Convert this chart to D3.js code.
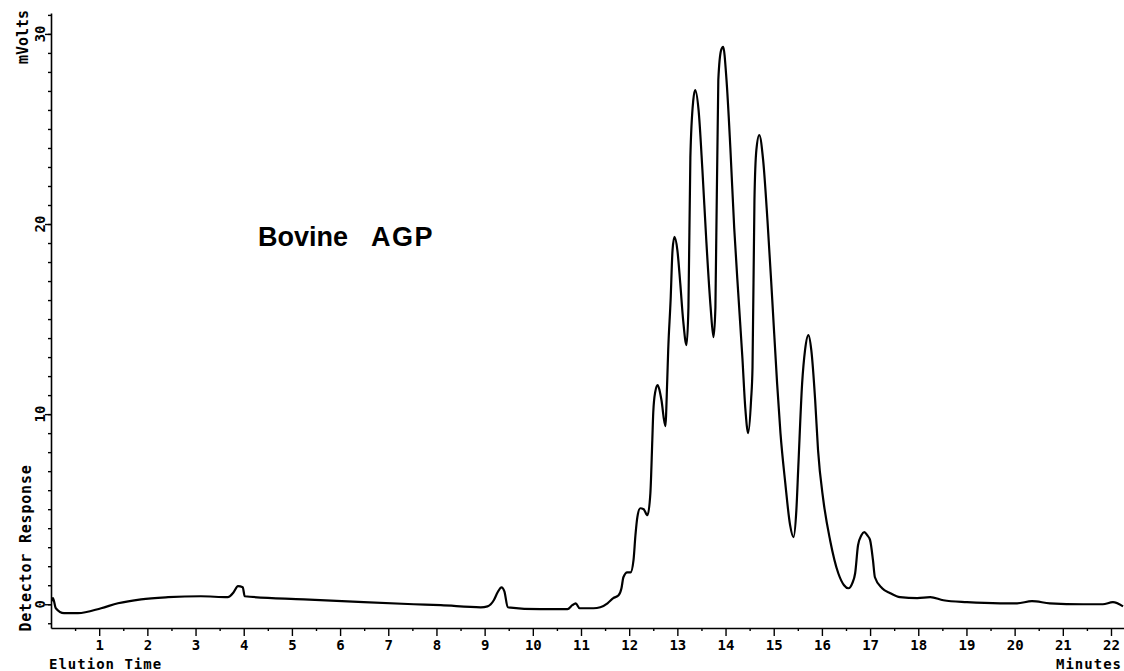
<!DOCTYPE html>
<html>
<head>
<meta charset="utf-8">
<script src="https://cdn.jsdelivr.net/npm/d3@7"></script>
<style>
  body { margin: 0; background: #fff; }
  text { fill: #000; }
  .lab { font-family: "DejaVu Sans Mono", monospace; font-weight: bold; font-size: 14px; }
</style>
</head>
<body>
<svg id="canvas"></svg>
<script>
var w = 1124;
var h = 671;

// elution time (minutes) and detector response (mV)
var times = [0.02, 0.04, 0.10, 0.27, 0.56, 1.04, 1.39, 1.87, 2.43, 3.11, 3.67, 3.79, 3.88, 3.98, 4.02,
  5.25, 6.49, 7.53, 8.09, 8.92, 9.06, 9.19, 9.27, 9.35, 9.41, 9.48, 10.16, 10.72, 10.82, 10.89, 10.97,
  11.26, 11.40, 11.55, 11.67, 11.78, 11.84, 11.88, 11.96, 12.03, 12.09, 12.13, 12.17, 12.23, 12.30, 12.38,
  12.44, 12.48, 12.50, 12.54, 12.59, 12.63, 12.67, 12.75, 12.79, 12.81, 12.86, 12.90, 12.94, 13.00, 13.06,
  13.12, 13.19, 13.23, 13.27, 13.33, 13.37, 13.44, 13.52, 13.60, 13.69, 13.75, 13.79, 13.85, 13.91, 13.95,
  14.02, 14.10, 14.18, 14.27, 14.35, 14.41, 14.47, 14.53, 14.56, 14.60, 14.64, 14.70, 14.78, 14.87, 14.97,
  15.07, 15.14, 15.24, 15.34, 15.41, 15.47, 15.51, 15.59, 15.65, 15.72, 15.78, 15.86, 15.92, 16.03, 16.17,
  16.34, 16.46, 16.55, 16.63, 16.69, 16.75, 16.82, 16.88, 16.94, 17.00, 17.06, 17.10, 17.25, 17.42, 17.62,
  17.98, 18.25, 18.52, 19.01, 19.70, 20.05, 20.36, 20.73, 21.42, 21.83, 22.04, 22.25];
var mvolts = [0.16, 0.32, -0.21, -0.47, -0.47, -0.21, 0.05, 0.26, 0.37, 0.42, 0.37, 0.63, 0.95, 0.89, 0.42,
  0.26, 0.11, 0.0, -0.05, -0.16, -0.11, 0.21, 0.63, 0.89, 0.68, -0.16, -0.26, -0.26, -0.05, 0.05, -0.21,
  -0.21, -0.16, 0.05, 0.32, 0.47, 0.84, 1.42, 1.68, 1.68, 2.32, 3.63, 4.58, 5.05, 5.0, 4.68,
  5.84, 8.63, 10.1, 11.16, 11.53, 11.26, 10.74, 9.37, 11.79, 13.37, 16.0, 18.63, 19.32, 18.63, 16.89,
  14.95, 13.63, 15.63, 23.5, 26.5, 27.05, 26.0, 22.84, 19.16, 15.63, 14.05, 15.63, 27.58, 29.16, 29.32,
  27.58, 24.0, 19.79, 16.11, 12.95, 10.32, 9.0, 10.74, 12.47, 21.26, 23.9, 24.68, 23.37, 20.2, 16.0,
  11.63, 9.0, 6.37, 4.16, 3.53, 4.95, 7.21, 11.63, 13.37, 14.16, 13.37, 10.74, 8.1, 5.47, 3.37,
  1.63, 1.0, 0.84, 1.1, 1.63, 3.1, 3.63, 3.79, 3.63, 3.37, 2.32, 1.42, 0.84, 0.58, 0.37,
  0.32, 0.37, 0.21, 0.11, 0.05, 0.05, 0.16, 0.05, 0.0, 0.0, 0.11, -0.11];

var xMajor = d3.range(1, 23);          // 1 .. 22 minutes
var xMinor = d3.range(0.5, 22.3, 1);   // half minutes
var yMajor = [0, 10, 20, 30];
var yMinor = d3.range(-1, 32);

var svg = d3.select("#canvas")
  .attr("width", w)
  .attr("height", h)
  .attr("viewBox", [0, 0, w, h]);

var x = d3.scaleLinear().domain([0, 22.27]).range([51, 1124]);
var y = d3.scaleLinear().domain([-1.25, 31.1]).range([628, 13]);

// x axis
var gx = svg.append("g").attr("transform", "translate(0," + y(-1.25) + ")");
gx.call(d3.axisBottom(x).tickValues(xMajor).tickSize(8).tickSizeOuter(0).tickFormat(d3.format("d")));
gx.append("g").call(d3.axisBottom(x).tickValues(xMinor).tickSize(3).tickSizeOuter(0).tickFormat(""))
  .select(".domain").remove();
gx.selectAll("text").attr("class", "lab").attr("y", 22).attr("dy", 0)
  .style("font-size", "14px").style("font-family", "'DejaVu Sans Mono', monospace").style("font-weight", "bold");

// y axis
var gy = svg.append("g").attr("transform", "translate(" + x(0) + ",0)");
gy.call(d3.axisLeft(y).tickValues(yMajor).tickSize(6).tickSizeOuter(0).tickFormat(""));
gy.append("g").call(d3.axisLeft(y).tickValues(yMinor).tickSize(3).tickSizeOuter(0).tickFormat(""))
  .select(".domain").remove();
svg.selectAll(".domain").attr("stroke", "#000").attr("stroke-width", 1.6);
svg.selectAll(".tick line").attr("stroke", "#000").attr("stroke-width", 1.4);

svg.append("g").selectAll("text")
  .data(yMajor)
  .enter()
  .append("text")
  .attr("class", "lab")
  .attr("text-anchor", "middle")
  .attr("transform", d => "translate(45," + y(d) + ") rotate(-90)")
  .text(d => d);

// axis titles
svg.append("text").attr("class", "lab").style("font-size", "15px")
  .attr("text-anchor", "middle")
  .attr("transform", "translate(28,37) rotate(-90)")
  .text("mVolts");
svg.append("text").attr("class", "lab").style("font-size", "15px")
  .style("letter-spacing", "0.8px")
  .attr("text-anchor", "middle")
  .attr("transform", "translate(31,548) rotate(-90)")
  .text("Detector Response");
svg.append("text").attr("class", "lab")
  .attr("x", 49).attr("y", 669)
  .style("letter-spacing", "1px")
  .text("Elution Time");
svg.append("text").attr("class", "lab")
  .attr("x", 1122).attr("y", 669).attr("text-anchor", "end")
  .style("letter-spacing", "1px")
  .text("Minutes");

// trace
var pts = times.map((t, i) => [t, mvolts[i]]);
var line = d3.line()
  .x(d => x(d[0]))
  .y(d => y(d[1]))
  .curve(d3.curveMonotoneX);
svg.append("path")
  .datum(pts)
  .attr("d", line)
  .attr("fill", "none")
  .attr("stroke", "#000")
  .attr("stroke-width", 2.2)
  .attr("stroke-linejoin", "round");

// label
var title = svg.append("g")
  .style("font-family", "'Liberation Sans', Arial, sans-serif")
  .style("font-weight", "bold")
  .style("font-size", "27px");
title.append("text").attr("x", 258).attr("y", 246).text("Bovine");
title.append("text").attr("x", 371).attr("y", 246).style("letter-spacing", "1.5px").text("AGP");
</script>
</body>
</html>
